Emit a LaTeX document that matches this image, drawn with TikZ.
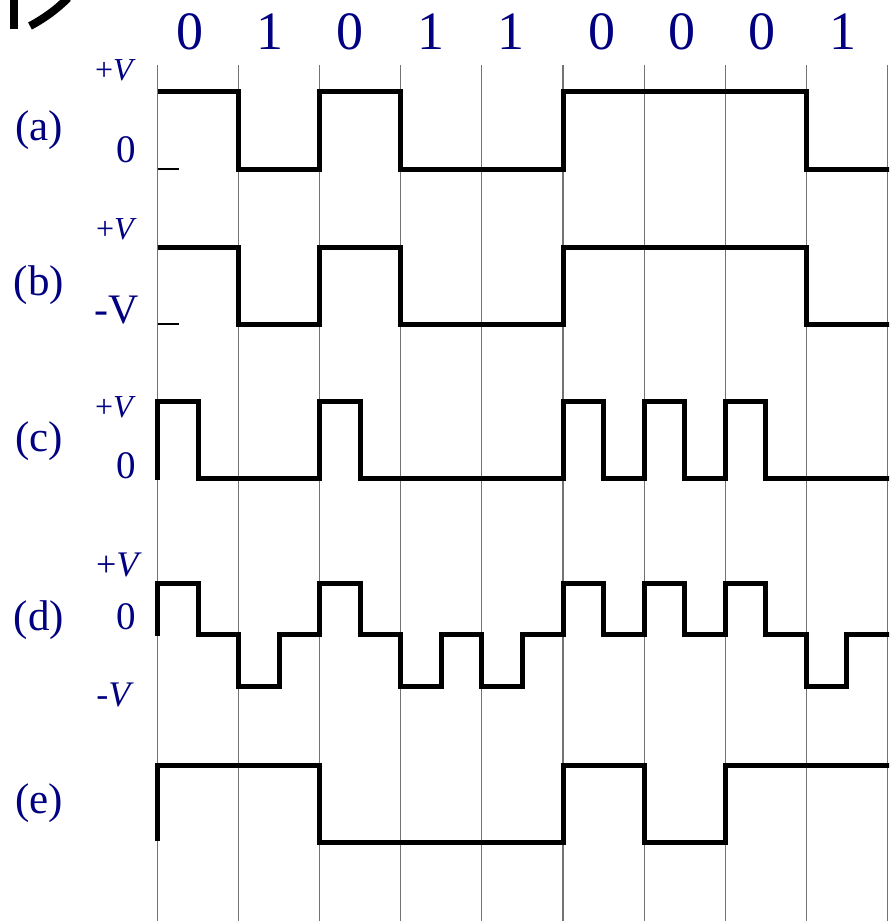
\documentclass[tikz,border=0pt]{standalone}
\usepackage{fontspec}
\setmainfont{Liberation Serif}
\definecolor{navy}{RGB}{0,0,128}
\begin{document}
\begin{tikzpicture}[x=1pt,y=-1pt,
  wave/.style={line width=5pt, line join=miter, line cap=butt},
  gridln/.style={line width=1.1pt, black!55},
  tickln/.style={line width=1.3pt, black},
  bit/.style={text=navy, inner sep=0pt, font=\fontsize{54}{62}\selectfont},
  rowlbl/.style={text=navy, inner sep=0pt, font=\fontsize{43}{50}\selectfont},
  lvl/.style={text=navy, inner sep=0pt, anchor=east, font=\fontsize{32}{38}\selectfont},
  lvlb/.style={text=navy, inner sep=0pt, anchor=east, font=\fontsize{36}{42}\selectfont},
  zero/.style={text=navy, inner sep=0pt, anchor=east, font=\fontsize{39}{45}\selectfont}]
\useasboundingbox (0,0) rectangle (889,921);
\clip (0,0) rectangle (889,921);
\fill[white] (0,0) rectangle (889,921);

% cut-off mark at top left
\draw[line width=8pt] (14,-2) -- (14,29);
\draw[line width=8pt] (30,26) .. controls (45,18) and (57,9) .. (68,-2);

% grid lines
\foreach \x in {157.5,238.6,319.7,400.8,481.9,563.0,644.1,725.2,806.3,887.4}
  \draw[gridln] (\x,65) -- (\x,925);

% bit labels
\node[bit] (b0) at (190,32) {0};
\node[bit] (b1) at (270,32) {1};
\node[bit] (b2) at (350,32) {0};
\node[bit] (b3) at (431,32) {1};
\node[bit] (b4) at (511,32) {1};
\node[bit] (b5) at (602,32) {0};
\node[bit] (b6) at (682,32) {0};
\node[bit] (b7) at (762,32) {0};
\node[bit] (b8) at (843,32) {1};

% row labels
\node[rowlbl] (ra) at (39,130) {(a)};
\node[rowlbl] (rb) at (39,285) {(b)};
\node[rowlbl] (rc) at (39,441) {(c)};
\node[rowlbl] (rd) at (39,620) {(d)};
\node[rowlbl] (re) at (39,803) {(e)};

% level labels
\node[lvl] (pa) at (136,70) {+\textit{V}};
\node[zero] (za) at (136,150) {0};
\node[lvl] (pb) at (137,229) {+\textit{V}};
\node[text=navy, inner sep=0pt, anchor=east, font=\fontsize{42}{48}\selectfont] (mb) at (139,310) {-V};
\node[lvl] (pc) at (136,407) {+\textit{V}};
\node[zero] (zc) at (136,466) {0};
\node[lvlb] (pd) at (142,565) {+\textit{V}};
\node[zero] (zd) at (136,617) {0};
\node[lvlb] (md) at (134,695) {-\textit{V}};

% small ticks
\draw[tickln] (157.5,169) -- (179,169);
\draw[tickln] (157.5,324) -- (179,324);

% (a)
\draw[wave] (157.5,91) -- (238.6,91) -- (238.6,169) -- (319.7,169) -- (319.7,91)
  -- (400.8,91) -- (400.8,169) -- (563,169) -- (563,91) -- (806.3,91) -- (806.3,169) -- (892,169);
% (b)
\draw[wave] (157.5,247) -- (238.6,247) -- (238.6,324) -- (319.7,324) -- (319.7,247)
  -- (400.8,247) -- (400.8,324) -- (563,324) -- (563,247) -- (806.3,247) -- (806.3,324) -- (892,324);
% (c)
\draw[wave] (157.5,480) -- (157.5,401) -- (198,401) -- (198,478) -- (319.7,478) -- (319.7,401)
  -- (360.2,401) -- (360.2,478) -- (563,478) -- (563,401) -- (603.6,401) -- (603.6,478)
  -- (644.1,478) -- (644.1,401) -- (684.6,401) -- (684.6,478) -- (725.2,478) -- (725.2,401)
  -- (765.8,401) -- (765.8,478) -- (892,478);
% (d)
\draw[wave] (157.5,636) -- (157.5,583) -- (198,583) -- (198,634) -- (238.6,634) -- (238.6,686)
  -- (279.2,686) -- (279.2,634) -- (319.7,634) -- (319.7,583) -- (360.2,583) -- (360.2,634)
  -- (400.8,634) -- (400.8,686) -- (441.4,686) -- (441.4,634) -- (481.9,634) -- (481.9,686)
  -- (522.4,686) -- (522.4,634) -- (563,634) -- (563,583) -- (603.6,583) -- (603.6,634)
  -- (644.1,634) -- (644.1,583) -- (684.6,583) -- (684.6,634) -- (725.2,634) -- (725.2,583)
  -- (765.8,583) -- (765.8,634) -- (806.3,634) -- (806.3,686) -- (846.8,686) -- (846.8,634) -- (892,634);
% (e)
\draw[wave] (157.5,841) -- (157.5,765) -- (319.7,765) -- (319.7,842) -- (563,842) -- (563,765)
  -- (644.1,765) -- (644.1,842) -- (725.2,842) -- (725.2,765) -- (892,765);
\end{tikzpicture}
\end{document}
